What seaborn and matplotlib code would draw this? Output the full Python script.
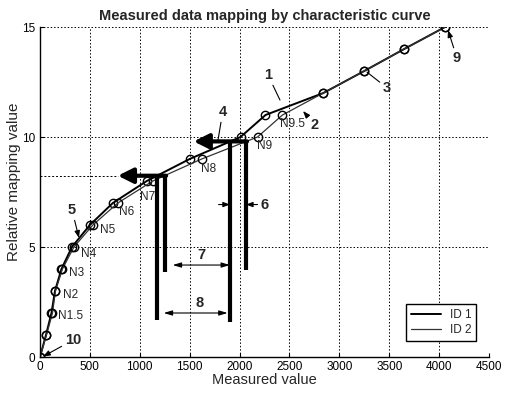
import pandas as pd
import matplotlib
matplotlib.use('Agg')
import matplotlib.pyplot as plt
from matplotlib.lines import Line2D
import seaborn as sns

# characteristic curve levels (relative mapping value)
levels = [0, 1, 2, 3, 4, 5, 6, 7, 8, 9, 10, 11, 12, 13, 14, 15]
id1_x = [0, 60, 115, 150, 215, 320, 500, 730, 1070, 1500, 2010, 2260, 2840, 3250, 3650, 4060]
id2_x = [0, 65, 125, 155, 225, 340, 530, 780, 1130, 1620, 2180, 2430, 2840, 3250, 3650, 4060]

# node labels on curve 2
node_names = ['N1.5', 'N2', 'N3', 'N4', 'N5', 'N6', 'N7', 'N8', 'N9', 'N9.5']
node_x = [180, 233, 294, 408, 601, 795, 1002, 1610, 2177, 2405]
node_y = [1.88, 2.8, 3.8, 4.67, 5.77, 6.6, 7.29, 8.55, 9.6, 10.58]

# mapping construction lines: (x, y_top, y_bottom)
bars_x = [1169, 1253, 1904, 2064]
bars_top = [8.24, 8.24, 9.8, 9.8]
bars_bottom = [1.68, 3.88, 1.6, 3.95]

df = pd.DataFrame({
    'x': id1_x + id2_x,
    'y': levels + levels,
    'id': ['ID 1'] * len(levels) + ['ID 2'] * len(levels),
})

sns.set_style('ticks')
plt.rcParams['font.family'] = ['Liberation Sans', 'DejaVu Sans']

fig = plt.figure(figsize=(5.05, 3.94), dpi=100)
ax = fig.add_axes([40 / 505, 1 - 357 / 394, 449 / 505, 330 / 394])

sns.lineplot(data=df[df.id == 'ID 1'], x='x', y='y', sort=False, ax=ax,
             color='black', lw=1.4, marker='o', ms=6, mfc='none', mec='black', mew=1)
sns.lineplot(data=df[df.id == 'ID 2'], x='x', y='y', sort=False, ax=ax,
             color='#333333', lw=0.9, marker='o', ms=6, mfc='none', mec='black', mew=1)

for name, nx, ny in zip(node_names, node_x, node_y):
    ax.text(nx, ny, name, fontsize=8.5, va='center', ha='left')

# thick vertical lines
for bx, bt, bb in zip(bars_x, bars_top, bars_bottom):
    ax.plot([bx, bx], [bb, bt], color='black', lw=3, solid_capstyle='butt')

# thick horizontal arrows
big = dict(arrowstyle='-|>,head_width=0.45,head_length=0.9', lw=3, color='black', shrinkA=0, shrinkB=0)
ax.annotate('', xy=(1540, 9.8), xytext=(2075, 9.8), arrowprops=big)
ax.annotate('', xy=(780, 8.24), xytext=(1264, 8.24), arrowprops=big)
ax.plot([0, 780], [8.24, 8.24], color='black', lw=0.7, ls=(0, (2, 2)))

small = dict(arrowstyle='-|>,head_width=0.15,head_length=0.4', lw=0.8, color='black', shrinkA=0, shrinkB=0)
plain = dict(arrowstyle='-', lw=0.8, color='black', shrinkA=0, shrinkB=0)
both = dict(arrowstyle='<|-|>,head_width=0.15,head_length=0.5', lw=0.8, color='black', shrinkA=0, shrinkB=0)

lab = dict(fontsize=10.5, fontweight='bold', ha='center', va='center')
ax.annotate('1', xy=(2405, 11.68), xytext=(2285, 12.82), arrowprops=plain, **lab)
ax.annotate('2', xy=(2636, 11.18), xytext=(2756, 10.55), arrowprops=small, **lab)
ax.annotate('3', xy=(3277, 12.95), xytext=(3478, 12.23), arrowprops=plain, **lab)
ax.annotate('9', xy=(4089, 14.86), xytext=(4179, 13.59), arrowprops=small, **lab)
ax.annotate('4', xy=(1784, 9.86), xytext=(1831, 11.14), arrowprops=plain, **lab)
ax.annotate('5', xy=(391, 5.41), xytext=(321, 6.68), arrowprops=small, **lab)
ax.annotate('10', xy=(30, 0.02), xytext=(331, 0.77), arrowprops=small, **lab)
ax.text(2255, 6.9, '6', **lab)
ax.annotate('', xy=(2064, 6.93), xytext=(2180, 6.93), arrowprops=small)
ax.annotate('', xy=(1904, 6.93), xytext=(1790, 6.93), arrowprops=small)
ax.text(1620, 4.64, '7', **lab)
ax.annotate('', xy=(1330, 4.18), xytext=(1904, 4.18), arrowprops=both)
ax.text(1604, 2.45, '8', **lab)
ax.annotate('', xy=(1240, 2.0), xytext=(1880, 2.0), arrowprops=both)

ax.set_xlim(0, 4500)
ax.set_ylim(0, 15)
ax.set_xticks(range(0, 4501, 500))
ax.set_yticks([0, 5, 10, 15])
ax.grid(True, color='black', lw=0.7, ls=(0, (1.5, 2)))
ax.tick_params(direction='in', labelsize=8.5, length=3, width=0.8, colors='black')
ax.tick_params(axis='x', pad=3)
sns.despine(ax=ax)
for s in ['left', 'bottom']:
    ax.spines[s].set_linewidth(1.0)
    ax.spines[s].set_color('black')

ax.set_title('Measured data mapping by characteristic curve', fontsize=10.5, fontweight='bold', pad=5)
ax.set_xlabel('Measured value', fontsize=10.5, labelpad=0)
ax.set_ylabel('Relative mapping value', fontsize=11)
ax.yaxis.set_label_coords(-0.042, 0.53)

handles = [Line2D([], [], color='black', lw=1.4), Line2D([], [], color='#333333', lw=0.9)]
ax.legend(handles, ['ID 1', 'ID 2'], loc='lower right', bbox_to_anchor=(0.985, 0.03),
          fontsize=8.5, frameon=True, fancybox=False, edgecolor='black', framealpha=1,
          handlelength=2.5, borderpad=0.4, labelspacing=0.3)

fig.savefig('out.png', dpi=100)
